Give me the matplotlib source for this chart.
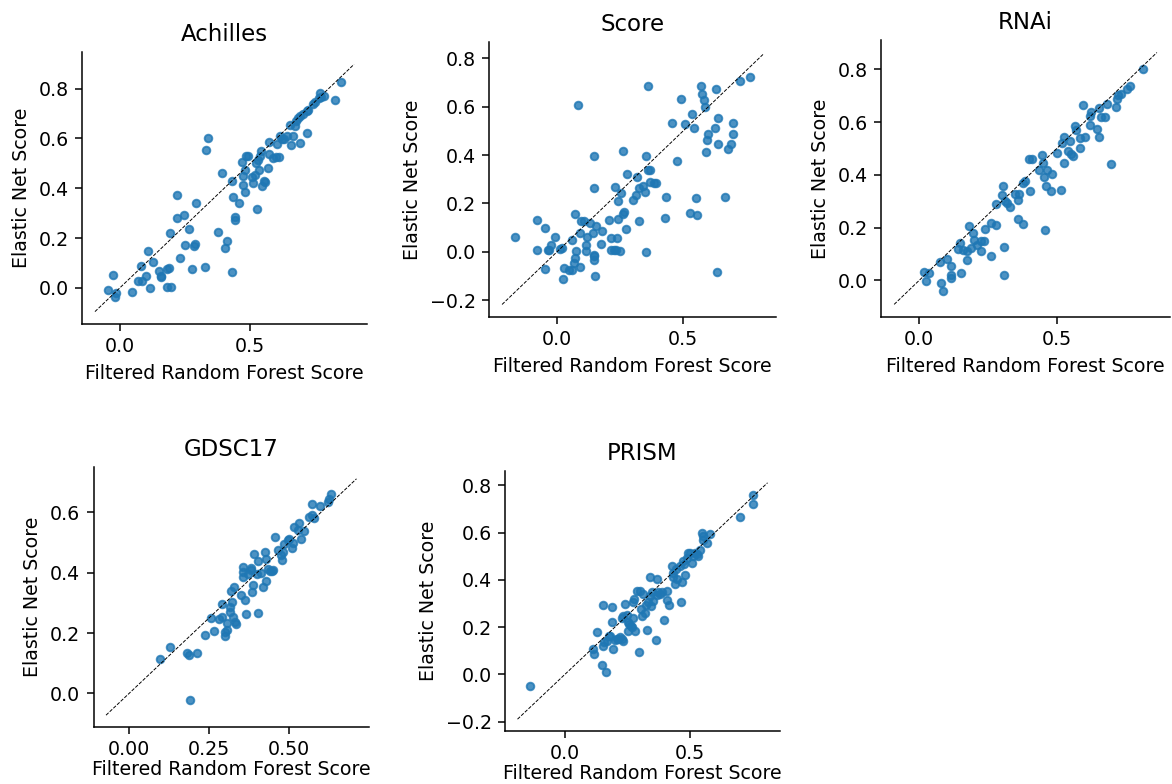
import numpy as np
import matplotlib
matplotlib.use("Agg")
import matplotlib.pyplot as plt
from matplotlib.ticker import MultipleLocator

# values (x = Filtered Random Forest, y = Elastic Net)
achilles_rf = [-0.046, -0.026, -0.019, -0.014, 0.045, 0.071, 0.084, 0.099, 0.114, 0.082,
               0.109, 0.125, 0.150, 0.157, 0.157, 0.179, 0.189, 0.179, 0.197, 0.192,
               0.220, 0.247, 0.217, 0.231, 0.251, 0.263, 0.283, 0.289, 0.275, 0.292,
               0.328, 0.330, 0.337, 0.377, 0.401, 0.410, 0.392, 0.431, 0.429, 0.433,
               0.441, 0.442, 0.456, 0.472, 0.481, 0.472, 0.481, 0.526, 0.469, 0.485,
               0.491, 0.506, 0.510, 0.517, 0.523, 0.528, 0.536, 0.542, 0.533, 0.546,
               0.551, 0.557, 0.569, 0.572, 0.572, 0.587, 0.600, 0.611, 0.604, 0.613,
               0.621, 0.629, 0.639, 0.657, 0.665, 0.690, 0.716, 0.652, 0.671, 0.677,
               0.684, 0.690, 0.703, 0.716, 0.722, 0.742, 0.749, 0.762, 0.767, 0.783,
               0.770, 0.823, 0.848]
achilles_en = [-0.008, 0.051, -0.039, -0.022, -0.016, 0.028, 0.028, 0.047, -0.001, 0.089,
               0.146, 0.105, 0.069, 0.047, 0.042, 0.076, 0.080, 0.001, 0.004, 0.220,
               0.281, 0.291, 0.373, 0.120, 0.170, 0.236, 0.168, 0.177, 0.077, 0.342,
               0.085, 0.555, 0.600, 0.224, 0.161, 0.186, 0.461, 0.065, 0.427, 0.366,
               0.285, 0.274, 0.342, 0.411, 0.386, 0.450, 0.474, 0.315, 0.507, 0.528,
               0.531, 0.445, 0.420, 0.454, 0.501, 0.515, 0.528, 0.551, 0.474, 0.407,
               0.427, 0.423, 0.480, 0.539, 0.586, 0.520, 0.524, 0.526, 0.578, 0.609,
               0.596, 0.599, 0.609, 0.574, 0.609, 0.581, 0.620, 0.655, 0.650, 0.670,
               0.682, 0.691, 0.697, 0.711, 0.715, 0.738, 0.745, 0.761, 0.782, 0.772,
               0.765, 0.754, 0.828]

score_rf = [-0.168, -0.079, -0.079, -0.047, -0.047, -0.037, -0.031, -0.023, -0.007, 0.012,
            0.020, 0.023, 0.029, 0.047, 0.060, 0.066, 0.070, 0.074, 0.090, 0.060,
            0.072, 0.090, 0.096, 0.107, 0.116, 0.116, 0.119, 0.130, 0.143, 0.147,
            0.148, 0.146, 0.156, 0.178, 0.150, 0.174, 0.147, 0.148, 0.082, 0.205,
            0.214, 0.215, 0.226, 0.237, 0.234, 0.251, 0.243, 0.243, 0.254, 0.231,
            0.263, 0.266, 0.274, 0.263, 0.277, 0.299, 0.313, 0.317, 0.326, 0.324,
            0.340, 0.350, 0.353, 0.362, 0.370, 0.370, 0.384, 0.394, 0.361, 0.352,
            0.426, 0.430, 0.457, 0.475, 0.492, 0.508, 0.525, 0.535, 0.543, 0.549,
            0.553, 0.570, 0.576, 0.584, 0.588, 0.594, 0.598, 0.592, 0.624, 0.631,
            0.636, 0.638, 0.632, 0.664, 0.678, 0.688, 0.699, 0.699, 0.725, 0.766]
score_en = [0.061, 0.132, 0.006, 0.098, -0.072, 0.009, 0.009, 0.027, 0.061, 0.013,
            0.016, -0.111, -0.069, -0.076, -0.075, -0.048, -0.026, 0.002, -0.065, 0.049,
            0.158, 0.079, 0.127, 0.128, 0.027, 0.005, 0.060, 0.121, 0.078, -0.019,
            -0.033, -0.012, 0.107, 0.084, -0.099, 0.032, 0.263, 0.398, 0.609, 0.133,
            0.056, 0.009, 0.009, 0.058, 0.009, 0.002, 0.135, 0.208, 0.241, 0.269,
            0.156, 0.163, 0.093, 0.416, 0.322, 0.213, 0.234, 0.311, 0.128, 0.264,
            0.273, 0.248, 0.394, 0.339, 0.339, 0.290, 0.283, 0.284, 0.685, 0.001,
            0.138, 0.227, 0.534, 0.375, 0.632, 0.528, 0.161, 0.570, 0.513, 0.222,
            0.154, 0.685, 0.654, 0.629, 0.598, 0.461, 0.489, 0.412, 0.510, 0.673,
            0.555, 0.447, -0.082, 0.227, 0.423, 0.447, 0.486, 0.532, 0.706, 0.724]

rnai_rf = [0.018, 0.036, 0.024, 0.078, 0.088, 0.076, 0.100, 0.114, 0.117, 0.114,
           0.151, 0.141, 0.148, 0.160, 0.172, 0.175, 0.182, 0.187, 0.196, 0.199,
           0.208, 0.223, 0.223, 0.235, 0.240, 0.261, 0.261, 0.277, 0.277, 0.300,
           0.306, 0.307, 0.307, 0.312, 0.329, 0.317, 0.346, 0.358, 0.363, 0.359,
           0.375, 0.377, 0.384, 0.404, 0.399, 0.408, 0.434, 0.447, 0.448, 0.454,
           0.461, 0.464, 0.478, 0.482, 0.457, 0.502, 0.514, 0.518, 0.527, 0.527,
           0.539, 0.546, 0.551, 0.558, 0.565, 0.570, 0.582, 0.584, 0.602, 0.596,
           0.620, 0.623, 0.620, 0.647, 0.654, 0.652, 0.660, 0.676, 0.683, 0.695,
           0.713, 0.717, 0.723, 0.731, 0.753, 0.767, 0.813]
rnai_en = [0.030, 0.028, -0.004, -0.010, -0.041, 0.068, 0.080, 0.055, 0.020, 0.010,
           0.026, 0.118, 0.140, 0.115, 0.112, 0.078, 0.206, 0.124, 0.180, 0.153,
           0.133, 0.112, 0.149, 0.149, 0.193, 0.093, 0.218, 0.208, 0.291, 0.322,
           0.356, 0.128, 0.020, 0.302, 0.278, 0.293, 0.326, 0.303, 0.328, 0.233,
           0.214, 0.368, 0.376, 0.337, 0.459, 0.459, 0.419, 0.475, 0.446, 0.393,
           0.358, 0.419, 0.338, 0.404, 0.189, 0.481, 0.343, 0.521, 0.446, 0.544,
           0.491, 0.528, 0.479, 0.471, 0.584, 0.569, 0.538, 0.500, 0.544, 0.665,
           0.590, 0.639, 0.622, 0.575, 0.654, 0.544, 0.619, 0.619, 0.667, 0.440,
           0.657, 0.688, 0.704, 0.707, 0.726, 0.737, 0.801]

gdsc_rf = [0.095, 0.129, 0.180, 0.188, 0.213, 0.190, 0.237, 0.264, 0.256, 0.280,
           0.290, 0.290, 0.298, 0.301, 0.305, 0.307, 0.314, 0.316, 0.321, 0.324,
           0.334, 0.331, 0.318, 0.328, 0.348, 0.361, 0.365, 0.355, 0.355, 0.357,
           0.372, 0.381, 0.382, 0.384, 0.387, 0.390, 0.398, 0.403, 0.403, 0.413,
           0.418, 0.424, 0.426, 0.428, 0.433, 0.439, 0.445, 0.449, 0.457, 0.464,
           0.474, 0.477, 0.480, 0.485, 0.495, 0.500, 0.512, 0.510, 0.515, 0.526,
           0.531, 0.536, 0.546, 0.561, 0.572, 0.570, 0.578, 0.595, 0.621, 0.625,
           0.629]
gdsc_en = [0.115, 0.154, 0.134, 0.126, 0.134, -0.022, 0.192, 0.206, 0.249, 0.247,
           0.254, 0.297, 0.189, 0.202, 0.210, 0.232, 0.270, 0.286, 0.302, 0.254,
           0.228, 0.236, 0.340, 0.351, 0.327, 0.308, 0.264, 0.418, 0.403, 0.384,
           0.394, 0.408, 0.414, 0.335, 0.360, 0.462, 0.394, 0.438, 0.267, 0.400,
           0.353, 0.468, 0.446, 0.371, 0.411, 0.405, 0.405, 0.407, 0.516, 0.476,
           0.457, 0.440, 0.468, 0.494, 0.508, 0.511, 0.497, 0.481, 0.551, 0.541,
           0.564, 0.511, 0.537, 0.584, 0.589, 0.627, 0.579, 0.619, 0.633, 0.644,
           0.660]

prism_rf = [-0.140, 0.113, 0.117, 0.127, 0.147, 0.153, 0.164, 0.156, 0.167, 0.175,
            0.180, 0.187, 0.193, 0.153, 0.189, 0.199, 0.207, 0.213, 0.220, 0.227,
            0.233, 0.227, 0.233, 0.240, 0.247, 0.253, 0.253, 0.256, 0.263, 0.267,
            0.273, 0.276, 0.280, 0.271, 0.287, 0.297, 0.300, 0.304, 0.307, 0.313,
            0.320, 0.324, 0.329, 0.333, 0.340, 0.340, 0.343, 0.348, 0.353, 0.367,
            0.364, 0.367, 0.373, 0.380, 0.387, 0.396, 0.407, 0.409, 0.417, 0.427,
            0.431, 0.433, 0.440, 0.444, 0.449, 0.460, 0.463, 0.467, 0.471, 0.476,
            0.480, 0.487, 0.493, 0.500, 0.509, 0.513, 0.520, 0.527, 0.533, 0.540,
            0.547, 0.553, 0.551, 0.569, 0.580, 0.700, 0.751, 0.751]
prism_en = [-0.051, 0.108, 0.087, 0.181, 0.041, 0.122, 0.010, 0.136, 0.143, 0.164,
            0.164, 0.223, 0.108, 0.294, 0.287, 0.147, 0.150, 0.150, 0.157, 0.150,
            0.139, 0.237, 0.249, 0.298, 0.251, 0.221, 0.185, 0.213, 0.206, 0.199,
            0.305, 0.319, 0.185, 0.237, 0.354, 0.094, 0.354, 0.277, 0.249, 0.340,
            0.260, 0.294, 0.188, 0.305, 0.414, 0.333, 0.291, 0.347, 0.312, 0.403,
            0.147, 0.336, 0.347, 0.340, 0.347, 0.228, 0.354, 0.316, 0.294, 0.459,
            0.410, 0.431, 0.382, 0.448, 0.403, 0.459, 0.305, 0.389, 0.480, 0.466,
            0.420, 0.494, 0.515, 0.513, 0.473, 0.501, 0.515, 0.508, 0.499, 0.525,
            0.600, 0.586, 0.567, 0.558, 0.593, 0.666, 0.761, 0.722]

# name, x, y, axes box in pixels (left, top, right, bottom), x tick step
datasets = [
    ("Achilles", achilles_rf, achilles_en, [82, 52, 367, 324], 0.5),
    ("Score", score_rf, score_en, [489, 42, 776, 317], 0.5),
    ("RNAi", rnai_rf, rnai_en, [881, 40, 1170, 317], 0.5),
    ("GDSC17", gdsc_rf, gdsc_en, [93.5, 467, 369, 727], 0.25),
    ("PRISM", prism_rf, prism_en, [505, 471, 780, 731], 0.5),
]

W, H = 1172, 784
fig = plt.figure(figsize=(8.555, 5.723), dpi=137)

for i, (name, rf, en, (x0, y0, x1, y1), step) in enumerate(datasets):
    ax = fig.add_axes([x0 / W, 1 - y1 / H, (x1 - x0) / W, (y1 - y0) / H])
    rf = np.array(rf)
    en = np.array(en)
    ax.scatter(rf, en, s=16, alpha=0.8)
    lo = min(rf.min(), en.min()) - 0.05
    hi = max(rf.max(), en.max()) + 0.05
    ax.plot([lo, hi], [lo, hi], "k--", lw=0.5)
    ax.xaxis.set_major_locator(MultipleLocator(step))
    ax.set_title(name)
    ax.set_xlabel("Filtered Random Forest Score", labelpad=0.5 if i >= 3 else 4)
    ax.set_ylabel("Elastic Net Score")
    ax.spines["top"].set_visible(False)
    ax.spines["right"].set_visible(False)

fig.savefig("out.png", dpi=137)
